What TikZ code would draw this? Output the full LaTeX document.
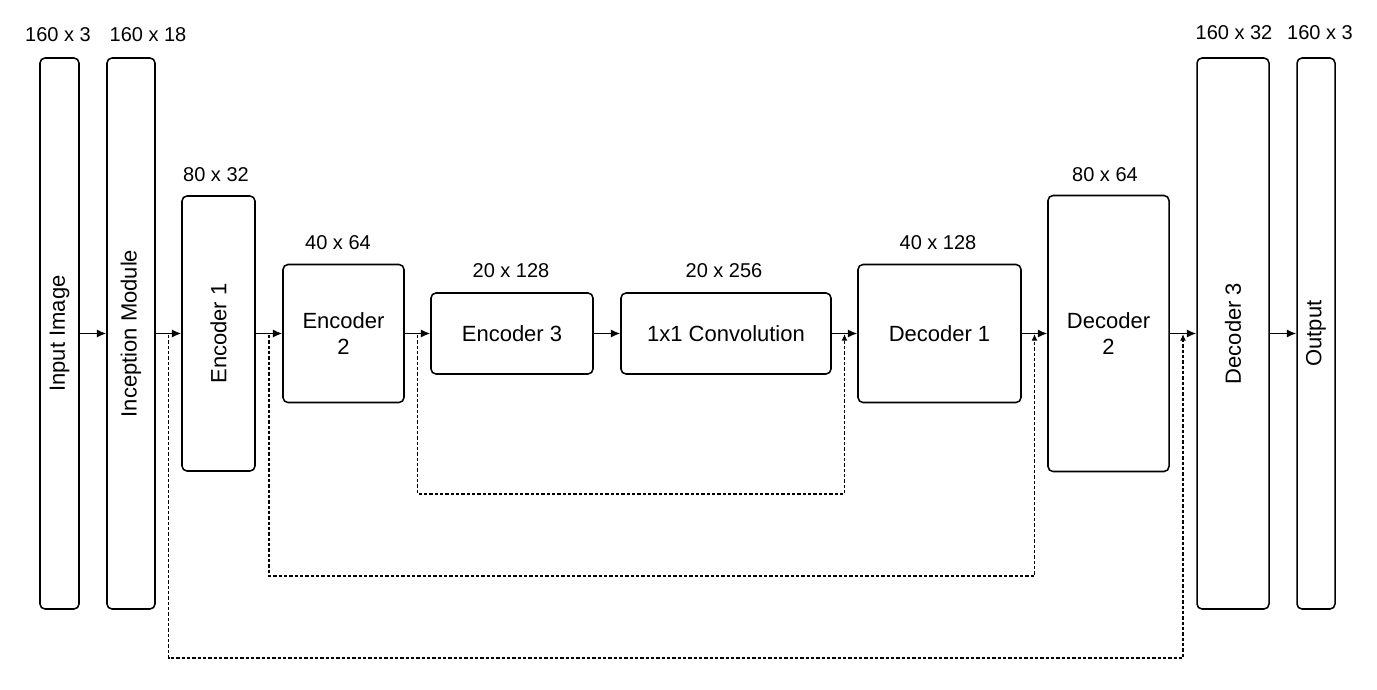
\documentclass[tikz,border=0pt]{standalone}
\usepackage{fontspec}
\setmainfont{Liberation Sans}
\usetikzlibrary{arrows.meta,calc}

\begin{document}
\begin{tikzpicture}
  [x=0.75pt,y=-0.75pt,
   blkN/.style={draw,line width=1.15pt,rounded corners=3.75pt,inner sep=2pt,
                align=center,font=\fontsize{16.5}{19}\selectfont},
   boxSz/.style 2 args={minimum width=#1*0.75pt,minimum height=#2*0.75pt},
   dimL/.style={inner sep=0pt,font=\fontsize{15}{18}\selectfont},
   flowA/.style={line width=1pt,-{Latex[length=7pt,width=6pt]}},
   skipA/.style={line width=1pt,dash pattern=on 2.5pt off 1.5pt,
                 -{Latex[length=5pt,width=4.5pt]}},
  ]

 \useasboundingbox (0,0) rectangle (1377,689);

 \node[blkN,boxSz={39}{551}]  (inImg)  at (59.5,333.5)   {\rotatebox{90}{Input Image}};
 \node[blkN,boxSz={48}{551}]  (incMod) at (131,333.5)    {\rotatebox{90}{Inception Module}};
 \node[blkN,boxSz={73}{275}]  (encA)   at (218.5,333.5)  {\rotatebox{90}{Encoder 1}};
 \node[blkN,boxSz={121}{138}] (encB)   at (343.5,333.5)  {Encoder\\2};
 \node[blkN,boxSz={162}{81}]  (encC)   at (512,333.5)    {Encoder 3};
 \node[blkN,boxSz={210}{81}]  (conv)   at (726,333.5)    {1x1 Convolution};
 \node[blkN,boxSz={163}{138}] (decA)   at (939.5,333.5)  {Decoder 1};
 \node[blkN,boxSz={121}{276}] (decB)   at (1108.5,333.5) {Decoder\\2};
 \node[blkN,boxSz={72}{551}]  (decC)   at (1233,333.5)   {\rotatebox{90}{Decoder 3}};
 \node[blkN,boxSz={38}{551}]  (outImg) at (1316,333.5)   {\rotatebox{90}{Output}};

 \node[dimL] (inImgD)  at (58,35)   {160 x 3};
 \node[dimL] (incModD) at (148,35)  {160 x 18};
 \node[dimL] (encAD)   at (216,175) {80 x 32};
 \node[dimL] (encBD)   at (338,243) {40 x 64};
 \node[dimL] (encCD)   at (511,271) {20 x 128};
 \node[dimL] (convD)   at (724,271) {20 x 256};
 \node[dimL] (decAD)   at (938,243) {40 x 128};
 \node[dimL] (decBD)   at (1105,175) {80 x 64};
 \node[dimL] (decCD)   at (1234,33) {160 x 32};
 \node[dimL] (outImgD) at (1320,33) {160 x 3};

 \draw[flowA] (inImg.east)  -- (incMod.west);
 \draw[flowA] (incMod.east) -- (encA.west);
 \draw[flowA] (encA.east)   -- (encB.west);
 \draw[flowA] (encB.east)   -- (encC.west);
 \draw[flowA] (encC.east)   -- (conv.west);
 \draw[flowA] (conv.east)   -- (decA.west);
 \draw[flowA] (decA.east)   -- (decB.west);
 \draw[flowA] (decB.east)   -- (decC.west);
 \draw[flowA] (decC.east)   -- (outImg.west);

 \coordinate (sA) at ($(incMod.east)!0.5!(encA.west)+(0,1.5)$);
 \coordinate (sB) at ($(encA.east)!0.5!(encB.west)+(0,1.5)$);
 \coordinate (sC) at ($(encB.east)!0.5!(encC.west)+(0,1.5)$);
 \coordinate (eC) at ($(conv.east)!0.5!(decA.west)+(0,0.5)$);
 \coordinate (eB) at ($(decA.east)!0.5!(decB.west)+(0,0.5)$);
 \coordinate (eA) at ($(decB.east)!0.5!(decC.west)+(0,0.5)$);

 \draw[skipA] (sC) -- ++(0,159) -| (eC);
 \draw[skipA] (sB) -- ++(0,241) -| (eB);
 \draw[skipA] (sA) -- ++(0,323) -| (eA);

\end{tikzpicture}
\end{document}
